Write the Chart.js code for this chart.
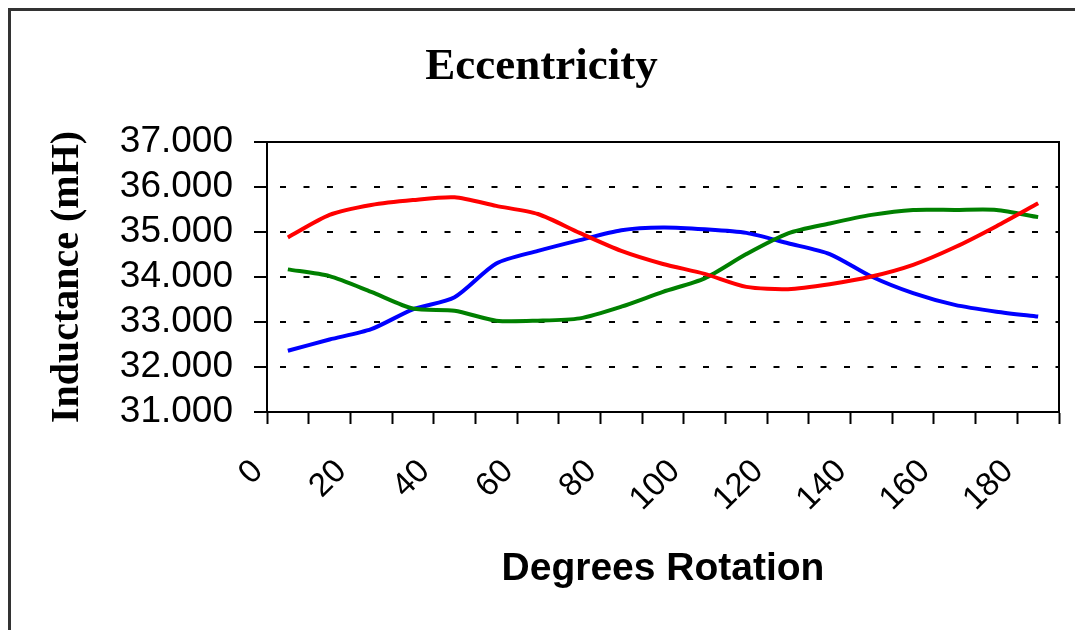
<!DOCTYPE html>
<html>
<head>
<meta charset="utf-8">
<title>Eccentricity</title>
<script src="https://cdn.jsdelivr.net/npm/chart.js@4.4.1/dist/chart.umd.min.js"></script>
<style>
  html, body { margin: 0; padding: 0; background: #fff; }
  canvas { display: block; }
</style>
</head>
<body>
<canvas id="chart" width="1075" height="630"></canvas>
<script>
// degrees of rotation, one point every 10 degrees
const degrees = ['0', '10', '20', '30', '40', '50', '60', '70', '80', '90',
                 '100', '110', '120', '130', '140', '150', '160', '170', '180'];

// inductance readings (mH)
const redSeries = [34.88, 35.38, 35.60, 35.71, 35.77, 35.58, 35.40, 34.98, 34.58, 34.29,
                   34.07, 33.78, 33.73, 33.84, 34.01, 34.27, 34.66, 35.13, 35.64];
const greenSeries = [34.17, 34.02, 33.67, 33.30, 33.25, 33.03, 33.03, 33.08, 33.34, 33.67,
                     33.97, 34.51, 34.97, 35.19, 35.38, 35.49, 35.49, 35.49, 35.33];
const blueSeries = [32.36, 32.61, 32.84, 33.28, 33.55, 34.30, 34.58, 34.82, 35.04, 35.10,
                    35.06, 34.98, 34.75, 34.51, 34.01, 33.64, 33.38, 33.23, 33.12];

const yMin = 31;
const yMax = 37;

const sans = "'Liberation Sans', Arial, sans-serif";
const serif = "'Liberation Serif', 'Times New Roman', serif";

// outer frame and the box round the plot area
const framePlugin = {
    id: 'frame',
    beforeDraw(chart) {
        const ctx = chart.ctx;
        ctx.save();
        ctx.fillStyle = '#fff';
        ctx.fillRect(0, 0, chart.width, chart.height);
        ctx.strokeStyle = '#333';
        ctx.lineWidth = 3;
        ctx.beginPath();
        ctx.moveTo(9.5, chart.height);
        ctx.lineTo(9.5, 9.5);
        ctx.lineTo(chart.width, 9.5);
        ctx.stroke();
        ctx.restore();
    },
    beforeDatasetsDraw(chart) {
        const { left, top, right, bottom } = chart.chartArea;
        const ctx = chart.ctx;
        ctx.save();
        ctx.strokeStyle = '#000';
        ctx.lineWidth = 2;
        ctx.strokeRect(left, top, right - left, bottom - top);
        ctx.restore();
    },
};

const makeLine = (data, color) => ({
    data,
    borderColor: color,
    backgroundColor: color,
    borderWidth: 4,
    pointRadius: 0,
    tension: 0.25,
    fill: false,
});

new Chart(document.getElementById('chart'), {
    type: 'line',
    data: {
        labels: degrees,
        datasets: [
            makeLine(redSeries, '#ff0000'),
            makeLine(greenSeries, '#008000'),
            makeLine(blueSeries, '#0000ff'),
        ],
    },
    options: {
        responsive: false,
        animation: false,
        devicePixelRatio: 1,
        layout: { padding: { left: 24, right: 16, top: 0, bottom: 0 } },
        plugins: {
            legend: { display: false },
            tooltip: { enabled: false },
            title: {
                display: true,
                text: 'Eccentricity',
                color: '#000',
                font: { family: serif, size: 45, weight: 'bold' },
                padding: { top: 40, bottom: 48 },
            },
        },
        scales: {
            x: {
                offset: true,
                grid: {
                    offset: true,
                    drawOnChartArea: false,
                    drawTicks: true,
                    tickLength: 12,
                    tickColor: '#000',
                    tickWidth: 2,
                },
                border: { display: true, color: '#000', width: 2 },
                ticks: {
                    autoSkip: false,
                    minRotation: 45,
                    maxRotation: 45,
                    padding: 28,
                    labelOffset: -30,
                    color: '#000',
                    font: { family: sans, size: 33 },
                    callback: function (value, index) {
                        return index % 2 === 0 ? this.getLabelForValue(value) : '';
                    },
                },
                title: {
                    display: true,
                    text: 'Degrees Rotation',
                    color: '#000',
                    font: { family: sans, size: 39, weight: 'bold' },
                    padding: { top: 0, bottom: 37 },
                },
                afterFit: (scale) => {
                    scale.height = 630 - 412;
                    scale.paddingLeft = 0;
                    scale.paddingRight = 0;
                },
            },
            y: {
                min: yMin,
                max: yMax,
                grid: {
                    color: '#000',
                    lineWidth: 2,
                    drawTicks: true,
                    tickLength: 13,
                    tickColor: '#000',
                    tickWidth: 2,
                    tickBorderDash: [],
                },
                border: { display: true, color: '#000', width: 2, dash: [6, 17.5], dashOffset: -12 },
                ticks: {
                    stepSize: 1,
                    autoSkip: false,
                    padding: 21,
                    color: '#000',
                    font: { family: sans, size: 37 },
                    callback: (value) => value.toFixed(3),
                },
                title: {
                    display: true,
                    text: 'Inductance (mH)',
                    color: '#000',
                    font: { family: serif, size: 40, weight: 'bold' },
                    padding: { top: 20, bottom: 0 },
                },
                afterFit: (scale) => {
                    scale.width = 267 - 24;
                    scale.paddingTop = 0;
                    scale.paddingBottom = 0;
                },
            },
        },
    },
    plugins: [framePlugin],
});
</script>
</body>
</html>
